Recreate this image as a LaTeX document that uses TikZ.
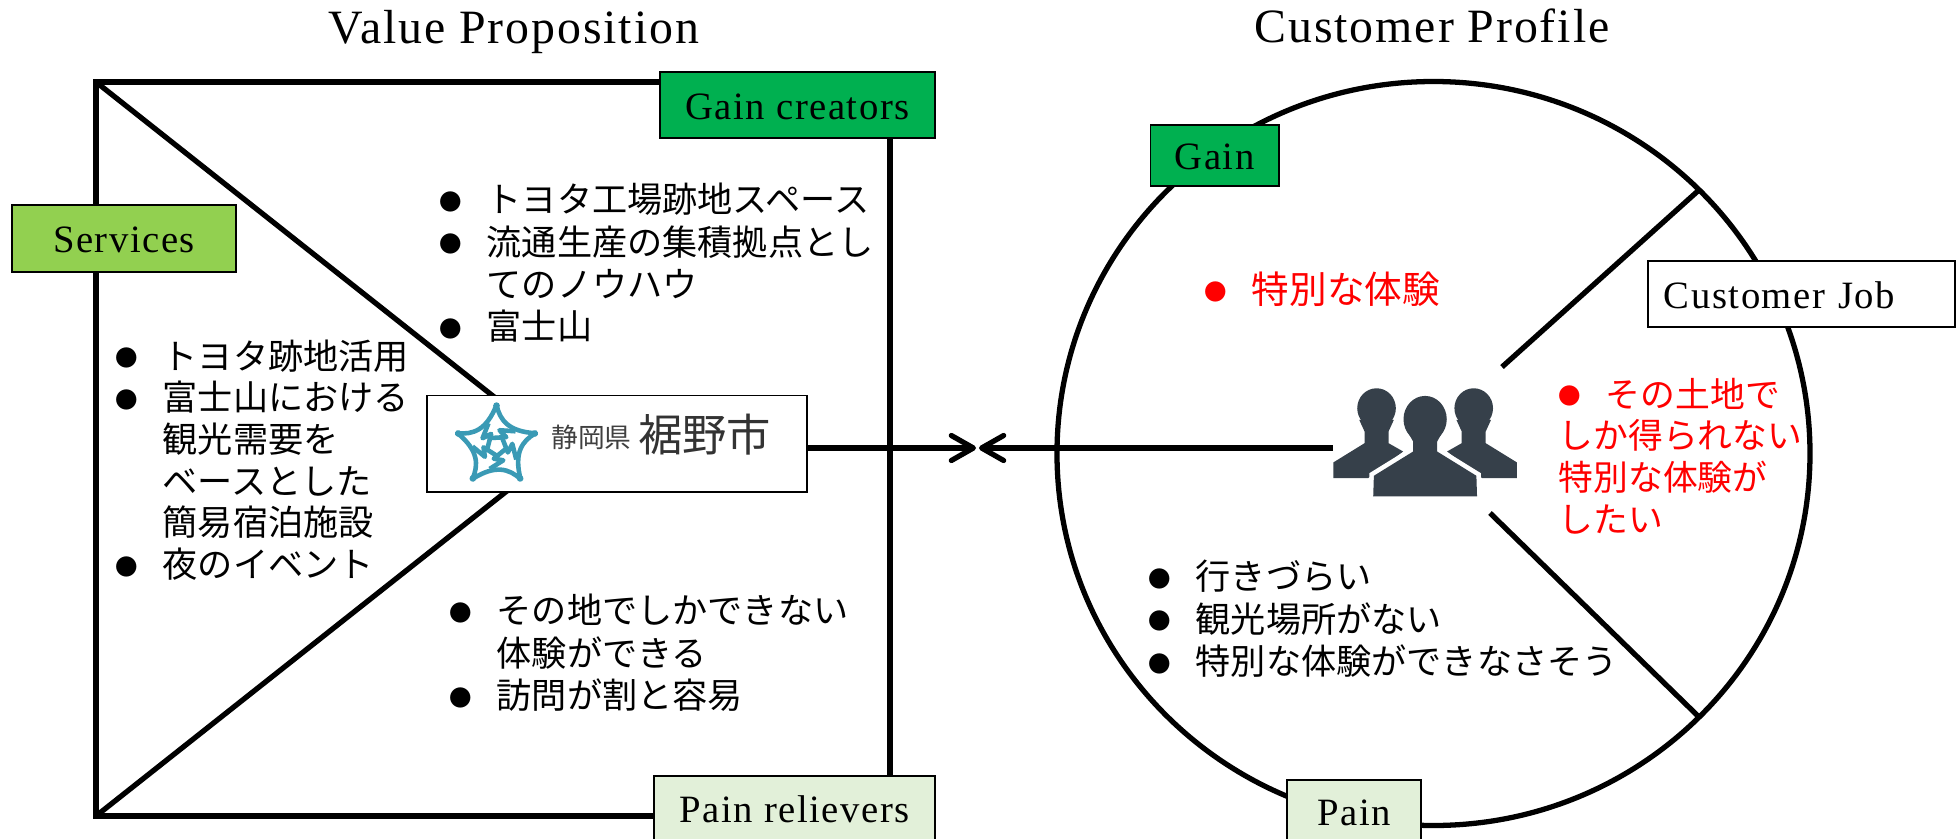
\documentclass[tikz,border=0pt]{standalone}
\usepackage{fontspec}
\setmainfont[LetterSpace=4]{Liberation Serif}
\newfontfamily\jp{Noto Sans CJK JP}
\usetikzlibrary{positioning}
\usetikzlibrary{arrows.meta}
\definecolor{gaingreen}{HTML}{00B050}
\definecolor{servgreen}{HTML}{92D050}
\definecolor{painpale}{HTML}{E2F0D9}
\definecolor{logoteal}{HTML}{3A9AB5}
\definecolor{peoplegray}{HTML}{36404A}
\tikzset{main line/.style={line width=1.5pt},
	label box/.style={draw,line width=0.55pt,inner sep=0pt,text height=0.28cm,text depth=0pt,font=\fontsize{11}{13}\selectfont},
	bullet list/.style={inner sep=0pt,anchor=west,align=left,font=\jp\fontsize{10}{12.05}\selectfont},
	title text/.style={inner sep=0pt,font=\fontsize{13.6}{16}\selectfont},}
\newcommand{\bul}{\makebox[13.4pt][l]{\raisebox{0.7pt}{\fontsize{6.4}{6}\selectfont ●}}}
\newcommand{\cont}{\hspace*{13.4pt}}

\begin{document}
\begin{tikzpicture}[x=0.01cm,y=-0.01cm]
	\useasboundingbox (0,0) rectangle (1956,839);
	% frame corners and spoke ends
	\coordinate (tl) at (96,82);
	\coordinate (bl) at (96,816);
	\coordinate (tr) at (890,82);
	\coordinate (br) at (890,816);
	\coordinate (apex) at (560,449);
	\coordinate (tipvalue) at (976,448);
	\coordinate (tipcust) at (979,448);
	\coordinate (stub) at (1333,448);
	\coordinate (profile) at (1433.5,453.5);
	\coordinate (ca) at (1699,190);
	\coordinate (cb) at (1502,367);
	\coordinate (cc) at (1699,717);
	\coordinate (cd) at (1490,513);

	\node[title text] (vptitle) at (514,31.5) {Value Proposition};
	\node[title text] (cptitle) at (1432,25.5) {Customer Profile};

	\draw[main line] (bl) -- (br) -- (tr) -- (tl) -- cycle;
	\draw[main line] (tl) -- (apex) -- (bl);
	\node[draw,line width=0.55pt,fill=white,minimum width=3.8cm,minimum height=0.96cm,inner sep=0pt] (logo) at (617,443.5) {};

	\draw[main line] (profile) ellipse (376.5 and 372);
	\draw[main line] (ca) -- (cb);
	\draw[main line] (cc) -- (cd);

	\path[draw,main line,-{Straight Barb[length=2.2mm,width=2.5mm,round]}] (logo.east |- tipvalue) -- (tipvalue);
	\path[draw,main line,-{Straight Barb[length=2.2mm,width=2.5mm,round]}] (stub) -- (tipcust);

	% logo star
	\begin{scope}[shift={(400,370)},x=0.00333cm,y=-0.00333cm,logoteal,line width=1.3pt,line join=round]
		\foreach \a in {0,72,...,288} {
			\begin{scope}[rotate around={\a:(290,228)}]
				\draw (290,105) .. controls (300,150) and (325,185) .. (407,190);
				\draw (266,160) -- (248,205) -- (274,192) -- (262,238);
				\fill (290,107) circle (10);
			\end{scope}
		}
	\end{scope}
	\node[inner sep=0pt,text=black!75,font=\jp\fontsize{7.6}{9}\selectfont] (logopref) at (591.5,437) {静岡県};
	\node[inner sep=0pt,text=black!80,font=\jp\fontsize{12.6}{14}\selectfont] (logocity) at (704.5,435) {裾野市};

	% people icon
	\begin{scope}[shift={(1300,340)},x=0.00333cm,y=-0.00333cm]
		\foreach \dx/\sg in {230/1,522/-1} {
			\begin{scope}[shift={(\dx,0)},xscale=\sg]
				\fill[peoplegray] (0,205) ellipse (58 and 60);
				\fill[peoplegray] (-52,240) -- (-36,275) -- (-36,310) -- (-130,368) -- (-130,415) -- (-25,415) -- (80,335) -- (36,310) -- (36,275) -- (52,240) -- cycle;
			\end{scope}
		}
		\fill[white,draw=white,line width=2.6pt] (340,300) -- (340,335) -- (222,408) -- (220,470) -- (532,470) -- (530,408) -- (412,335) -- (412,300) -- cycle;
		\fill[peoplegray] (340,300) -- (340,335) -- (222,408) -- (220,470) -- (532,470) -- (530,408) -- (412,335) -- (412,300) -- cycle;
		\fill[peoplegray] (376,238) ellipse (65 and 70);
		\fill[peoplegray] (320,270) -- (340,305) -- (412,305) -- (432,270) -- cycle;
	\end{scope}

	\node[label box,fill=gaingreen,minimum width=2.75cm,minimum height=0.66cm] (gaincreators) at (797.5,105) {Gain creators};
	\node[label box,fill=servgreen,minimum width=2.24cm,minimum height=0.67cm] (services) at (124,238.5) {Services};
	\node[label box,fill=painpale,minimum width=2.81cm,minimum height=0.65cm] (painrelievers) at (794.5,808.5) {Pain relievers};
	\node[label box,fill=gaingreen,minimum width=1.28cm,minimum height=0.61cm] (gain) at (1214.5,155.5) {Gain};
	\node[label box,fill=painpale,minimum width=1.34cm,minimum height=0.62cm] (pain) at (1354,811) {Pain};
	\node[label box,fill=white,minimum height=0.66cm,text width=2.75cm,inner xsep=0.16cm,align=left] (customerjob) at (1801.5,294) {Customer Job};

	\node[bullet list] (creatorlist) at (439,263) {\bul トヨタ工場跡地スペース\\\bul 流通生産の集積拠点とし\\\cont てのノウハウ\\\bul 富士山};
	\node[bullet list,font=\jp\fontsize{10}{11.85}\selectfont] (servicelist) at (115,460) {\bul トヨタ跡地活用\\\bul 富士山における\\\cont 観光需要を\\\cont ベースとした\\\cont 簡易宿泊施設\\\bul 夜のイベント};
	\node[bullet list] (relieverlist) at (449,653) {\bul その地でしかできない\\\cont 体験ができる\\\bul 訪問が割と容易};
	\node[bullet list,text=red,font=\jp\fontsize{10.7}{12.05}\selectfont] (gainlist) at (1204,289) {\bul 特別な体験};
	\node[bullet list,text=red,font=\jp\fontsize{9.9}{11.85}\selectfont] (joblist) at (1558,456) {\bul その土地で\\しか得られない\\特別な体験が\\したい};
	\node[bullet list] (painlist) at (1148,619) {\bul 行きづらい\\\bul 観光場所がない\\\bul 特別な体験ができなさそう};
\end{tikzpicture}
\end{document}
